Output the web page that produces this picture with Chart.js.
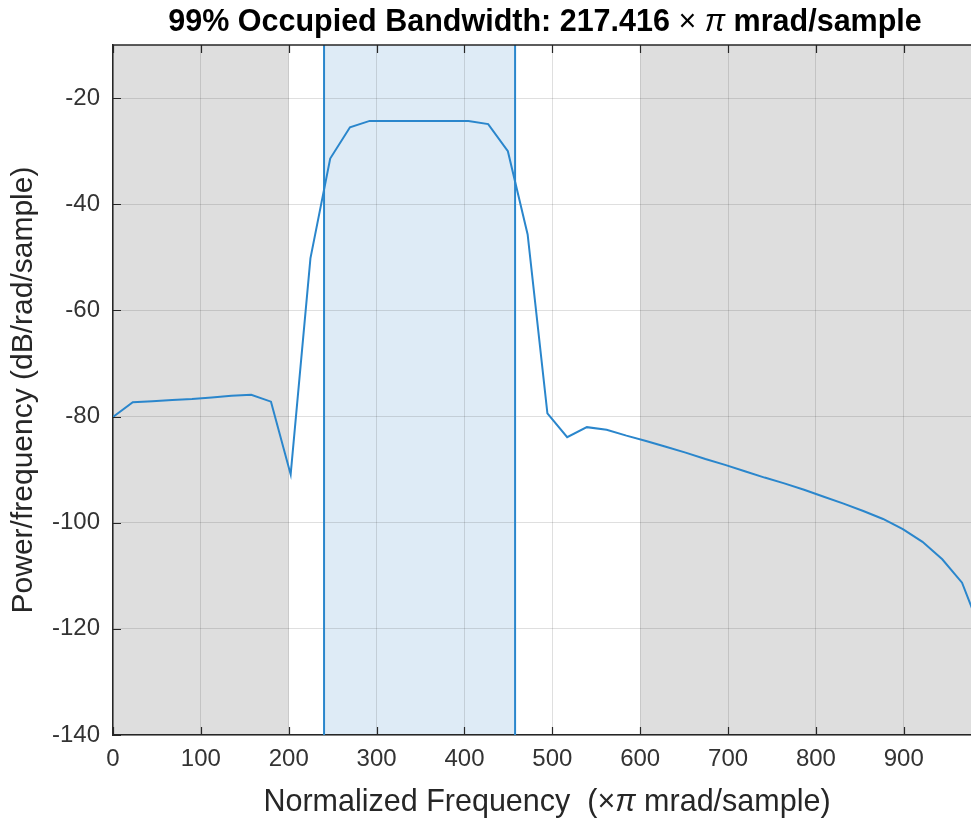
<!DOCTYPE html>
<html>
<head>
<meta charset="utf-8">
<script src="https://cdn.jsdelivr.net/npm/chart.js@4.4.0/dist/chart.umd.min.js"></script>
<style>
  body { margin: 0; background: #fff; }
  #wrap { width: 971px; height: 820px; }
</style>
</head>
<body>
<div id="wrap"><canvas id="obwChart"></canvas></div>
<script>
// PSD estimate, one value per frequency bin
const freq = [0, 22.5, 44.9, 67.4, 89.9, 112.4, 134.8, 157.3, 179.8, 202.2,
  224.7, 247.2, 269.7, 292.1, 314.6, 337.1, 359.6, 382.0, 404.5, 427.0,
  449.4, 471.9, 494.4, 516.9, 539.3, 561.8, 584.3, 606.7, 629.2, 651.7,
  674.2, 696.6, 719.1, 741.6, 764.0, 786.5, 809.0, 831.5, 853.9, 876.4,
  898.9, 921.3, 943.8, 966.3, 988.8];
const psd = [-80.1, -77.3, -77.1, -76.9, -76.7, -76.4, -76.1, -75.9, -77.2, -90.9,
  -50.2, -31.4, -25.5, -24.3, -24.3, -24.3, -24.3, -24.3, -24.3, -24.9,
  -30.0, -45.7, -79.4, -83.9, -82.0, -82.5, -83.6, -84.6, -85.7, -86.8,
  -88.0, -89.1, -90.3, -91.5, -92.6, -93.8, -95.1, -96.4, -97.8, -99.3,
  -101.2, -103.6, -106.9, -111.3, -120.9];

// occupied band edges and the shaded out-of-band zones
const bandLow = 240.2;
const bandHigh = 457.616;
const grayZones = [[0, 200], [600, 976.5]];

const xMax = 976.5;
const yMin = -140, yMax = -10;
const xTicks = [0, 100, 200, 300, 400, 500, 600, 700, 800, 900];
const yTicks = [-140, -120, -100, -80, -60, -40, -20];

const lineBlue = '#2a86cc';
const axisColor = '#262626';
const FONT = '"Liberation Sans", Arial, sans-serif';

const titleParts = [
  { text: '99% Occupied Bandwidth: 217.416 ', font: 'bold 30.5px ' + FONT },
  { text: '× ', font: '30.5px ' + FONT },
  { text: 'π', font: 'italic 30.5px ' + FONT },
  { text: ' mrad/sample', font: 'bold 30.5px ' + FONT }
];
const xLabelParts = [
  { text: 'Normalized Frequency  (', font: '30.5px ' + FONT },
  { text: '×', font: '30.5px ' + FONT },
  { text: 'π', font: 'italic 30.5px ' + FONT },
  { text: ' mrad/sample)', font: '30.5px ' + FONT }
];

function drawParts(ctx, parts, cx, cy, color) {
  let total = 0;
  parts.forEach(p => { ctx.font = p.font; p.w = ctx.measureText(p.text).width; total += p.w; });
  let x = cx - total / 2;
  ctx.textBaseline = 'middle';
  ctx.textAlign = 'left';
  ctx.fillStyle = color;
  parts.forEach(p => { ctx.font = p.font; ctx.fillText(p.text, x, cy); x += p.w; });
}

const zonesPlugin = {
  id: 'zones',
  beforeDraw(chart) {
    const { ctx, chartArea: a, scales: { x } } = chart;
    ctx.save();
    ctx.fillStyle = '#dedede';
    grayZones.forEach(([f0, f1]) => {
      const x0 = x.getPixelForValue(f0), x1 = x.getPixelForValue(f1);
      ctx.fillRect(x0, a.top, x1 - x0, a.bottom - a.top);
    });
    ctx.fillStyle = '#deebf6';
    const b0 = x.getPixelForValue(bandLow), b1 = x.getPixelForValue(bandHigh);
    ctx.fillRect(b0, a.top, b1 - b0, a.bottom - a.top);
    ctx.restore();
  },
  afterDraw(chart) {
    const { ctx, chartArea: a, scales: { x, y } } = chart;
    ctx.save();
    ctx.strokeStyle = axisColor;
    ctx.lineWidth = 1.5;
    ctx.beginPath();
    ctx.moveTo(a.left, a.top);
    ctx.lineTo(a.right, a.top);
    ctx.stroke();
    // inward tick marks
    ctx.lineWidth = 1.2;
    ctx.beginPath();
    xTicks.forEach(v => {
      const px = Math.round(x.getPixelForValue(v)) + 0.5;
      ctx.moveTo(px, a.bottom); ctx.lineTo(px, a.bottom - 8);
      ctx.moveTo(px, a.top); ctx.lineTo(px, a.top + 8);
    });
    yTicks.forEach(v => {
      const py = Math.round(y.getPixelForValue(v)) + 0.5;
      ctx.moveTo(a.left, py); ctx.lineTo(a.left + 8, py);
    });
    ctx.stroke();
    const cx = (a.left + a.right) / 2;
    drawParts(ctx, titleParts, cx + 3, 23, '#000');
    drawParts(ctx, xLabelParts, cx + 5, 803, axisColor);
    ctx.restore();
  }
};

new Chart(document.getElementById('obwChart'), {
  type: 'scatter',
  data: {
    datasets: [
      {
        data: freq.map((f, i) => ({ x: f, y: psd[i] })),
        showLine: true, borderColor: lineBlue, borderWidth: 2,
        pointRadius: 0, tension: 0
      },
      {
        data: [{ x: bandLow, y: yMin }, { x: bandLow, y: yMax }],
        showLine: true, borderColor: lineBlue, borderWidth: 2, pointRadius: 0
      },
      {
        data: [{ x: bandHigh, y: yMin }, { x: bandHigh, y: yMax }],
        showLine: true, borderColor: lineBlue, borderWidth: 2, pointRadius: 0
      }
    ]
  },
  options: {
    responsive: true,
    maintainAspectRatio: false,
    animation: false,
    layout: { padding: { top: 45, right: 0, bottom: 0, left: 0 } },
    plugins: { legend: { display: false }, tooltip: { enabled: false }, title: { display: false } },
    scales: {
      x: {
        type: 'linear', min: 0, max: xMax,
        afterBuildTicks: s => { s.ticks = xTicks.map(v => ({ value: v })); },
        afterFit: s => { s.height = 85; },
        grid: { color: 'rgba(38,38,38,0.15)', drawTicks: false },
        border: { display: true, color: axisColor, width: 1.5 },
        ticks: { color: '#333', font: { family: FONT, size: 24 }, padding: 10, maxRotation: 0 }
      },
      y: {
        type: 'linear', min: yMin, max: yMax,
        afterBuildTicks: s => { s.ticks = yTicks.map(v => ({ value: v })); },
        afterFit: s => { s.width = 113; },
        grid: { color: 'rgba(38,38,38,0.15)', drawTicks: false },
        border: { display: true, color: axisColor, width: 1.5 },
        ticks: { color: '#333', font: { family: FONT, size: 24 }, padding: 13 },
        title: {
          display: true, text: 'Power/frequency (dB/rad/sample)', color: axisColor,
          font: { family: FONT, size: 30 }, padding: { top: 6, bottom: 0 }
        }
      }
    }
  },
  plugins: [zonesPlugin]
});
</script>
</body>
</html>
